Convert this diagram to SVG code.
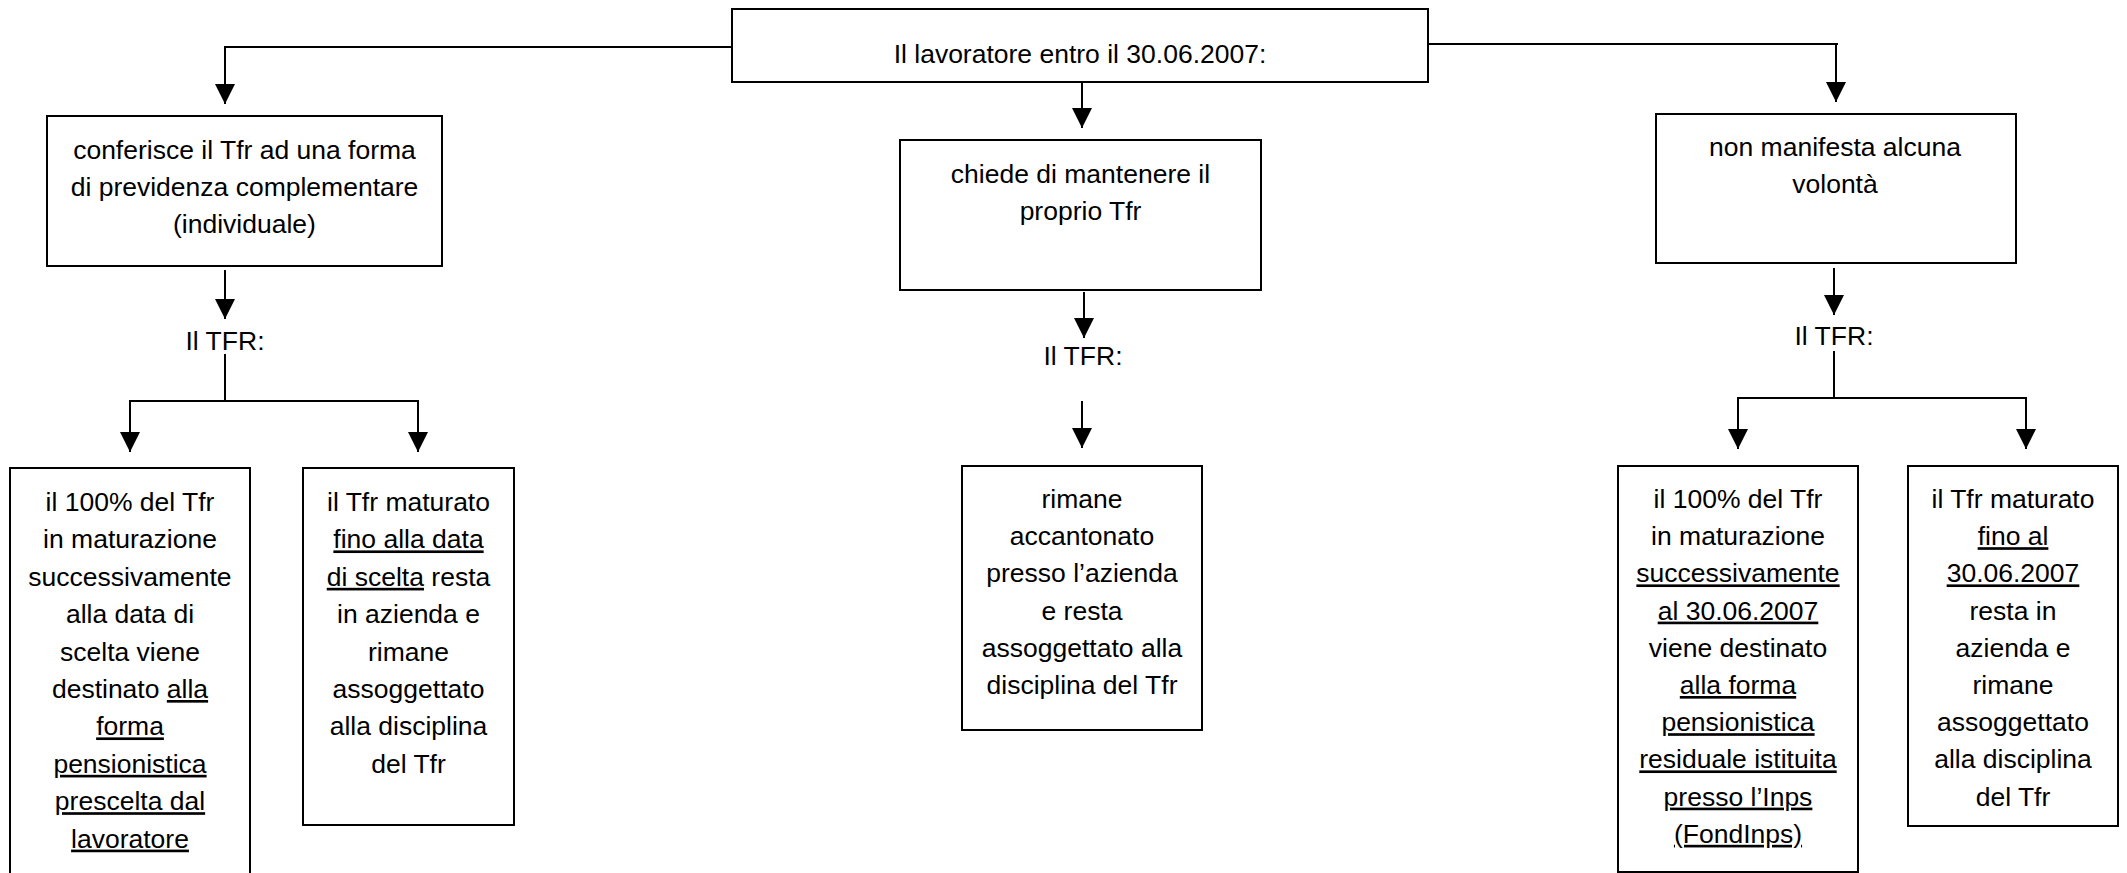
<svg xmlns="http://www.w3.org/2000/svg" width="2127" height="873" viewBox="0 0 2127 873">
<style>
.box{fill:#fff;stroke:#000;stroke-width:2}
.t{font-family:"Liberation Sans",Arial,sans-serif;font-size:26.5px;fill:#000;text-anchor:middle}
.u{text-decoration:underline}
.c{fill:none;stroke:#000;stroke-width:2}
</style>
<defs>
<marker id="ah" markerUnits="userSpaceOnUse" markerWidth="20" markerHeight="20" refX="20" refY="10" orient="auto">
<path d="M0,0 L20,10 L0,20 z" fill="#000"/>
</marker>
</defs>
<rect width="2127" height="873" fill="#fff"/>
<g id="connectors">
<path class="c" d="M732,47 H225 V104" marker-end="url(#ah)"/>
<path class="c" d="M1082,82 V128" marker-end="url(#ah)"/>
<path class="c" d="M1428,44 H1838"/>
<path class="c" d="M1836,44 V102" marker-end="url(#ah)"/>
<path class="c" d="M225,270 V319" marker-end="url(#ah)"/>
<path class="c" d="M225,354 V401 M129,401 H419"/>
<path class="c" d="M130,401 V452" marker-end="url(#ah)"/>
<path class="c" d="M418,401 V452" marker-end="url(#ah)"/>
<path class="c" d="M1084,292 V338" marker-end="url(#ah)"/>
<path class="c" d="M1082,401 V448" marker-end="url(#ah)"/>
<path class="c" d="M1834,268 V315" marker-end="url(#ah)"/>
<path class="c" d="M1834,351 V398 M1737,398 H2027"/>
<path class="c" d="M1738,398 V449" marker-end="url(#ah)"/>
<path class="c" d="M2026,398 V449" marker-end="url(#ah)"/>
</g>
<g id="top">
<rect class="box" x="732" y="9" width="696" height="73"/>
<text class="t" x="1080" y="63" font-size="27">Il lavoratore entro il 30.06.2007:</text>
</g>
<g id="conferisce">
<rect class="box" x="47" y="116" width="395" height="150"/>
<text class="t" x="244.5" y="159">conferisce il Tfr ad una forma</text>
<text class="t" x="244.5" y="196">di previdenza complementare</text>
<text class="t" x="244.5" y="233">(individuale)</text>
</g>
<g id="tfr-left"><text class="t" x="225" y="350">Il TFR:</text></g>
<g id="chiede">
<rect class="box" x="900" y="140" width="361" height="150"/>
<text class="t" x="1080.5" y="183">chiede di mantenere il</text>
<text class="t" x="1080.5" y="220">proprio Tfr</text>
</g>
<g id="tfr-center"><text class="t" x="1083" y="365">Il TFR:</text></g>
<g id="nonmanifesta">
<rect class="box" x="1656" y="114" width="360" height="149"/>
<text class="t" x="1835" y="156">non manifesta alcuna</text>
<text class="t" x="1835" y="193">volontà</text>
</g>
<g id="tfr-right"><text class="t" x="1834" y="345">Il TFR:</text></g>
<g id="left-100">
<rect class="box" x="10" y="468" width="240" height="430"/>
<text class="t" x="130" y="511">il 100% del Tfr</text>
<text class="t" x="130" y="548.4">in maturazione</text>
<text class="t" x="130" y="585.8">successivamente</text>
<text class="t" x="130" y="623.2">alla data di</text>
<text class="t" x="130" y="660.6">scelta viene</text>
<text class="t" x="130" y="698">destinato <tspan class="u">alla</tspan></text>
<text class="t" x="130" y="735.4"><tspan class="u">forma</tspan></text>
<text class="t" x="130" y="772.8"><tspan class="u">pensionistica</tspan></text>
<text class="t" x="130" y="810.2"><tspan class="u">prescelta dal</tspan></text>
<text class="t" x="130" y="847.6"><tspan class="u">lavoratore</tspan></text>
</g>
<g id="left-maturato">
<rect class="box" x="303" y="468" width="211" height="357"/>
<text class="t" x="408.5" y="511">il Tfr maturato</text>
<text class="t" x="408.5" y="548.4"><tspan class="u">fino alla data</tspan></text>
<text class="t" x="408.5" y="585.8"><tspan class="u">di scelta</tspan> resta</text>
<text class="t" x="408.5" y="623.2">in azienda e</text>
<text class="t" x="408.5" y="660.6">rimane</text>
<text class="t" x="408.5" y="698">assoggettato</text>
<text class="t" x="408.5" y="735.4">alla disciplina</text>
<text class="t" x="408.5" y="772.8">del Tfr</text>
</g>
<g id="center-rimane">
<rect class="box" x="962" y="466" width="240" height="264"/>
<text class="t" x="1082" y="508">rimane</text>
<text class="t" x="1082" y="545.2">accantonato</text>
<text class="t" x="1082" y="582.4">presso l’azienda</text>
<text class="t" x="1082" y="619.6">e resta</text>
<text class="t" x="1082" y="656.8">assoggettato alla</text>
<text class="t" x="1082" y="694">disciplina del Tfr</text>
</g>
<g id="right-100">
<rect class="box" x="1618" y="466" width="240" height="406"/>
<text class="t" x="1738" y="508">il 100% del Tfr</text>
<text class="t" x="1738" y="545.2">in maturazione</text>
<text class="t" x="1738" y="582.4"><tspan class="u">successivamente</tspan></text>
<text class="t" x="1738" y="619.6"><tspan class="u">al 30.06.2007</tspan></text>
<text class="t" x="1738" y="656.8">viene destinato</text>
<text class="t" x="1738" y="694"><tspan class="u">alla forma</tspan></text>
<text class="t" x="1738" y="731.2"><tspan class="u">pensionistica</tspan></text>
<text class="t" x="1738" y="768.4"><tspan class="u">residuale istituita</tspan></text>
<text class="t" x="1738" y="805.6"><tspan class="u">presso l’Inps</tspan></text>
<text class="t" x="1738" y="842.8"><tspan class="u">(FondInps)</tspan></text>
</g>
<g id="right-maturato">
<rect class="box" x="1908" y="466" width="210" height="360"/>
<text class="t" x="2013" y="508">il Tfr maturato</text>
<text class="t" x="2013" y="545.2"><tspan class="u">fino al</tspan></text>
<text class="t" x="2013" y="582.4"><tspan class="u">30.06.2007</tspan></text>
<text class="t" x="2013" y="619.6">resta in</text>
<text class="t" x="2013" y="656.8">azienda e</text>
<text class="t" x="2013" y="694">rimane</text>
<text class="t" x="2013" y="731.2">assoggettato</text>
<text class="t" x="2013" y="768.4">alla disciplina</text>
<text class="t" x="2013" y="805.6">del Tfr</text>
</g>
</svg>
